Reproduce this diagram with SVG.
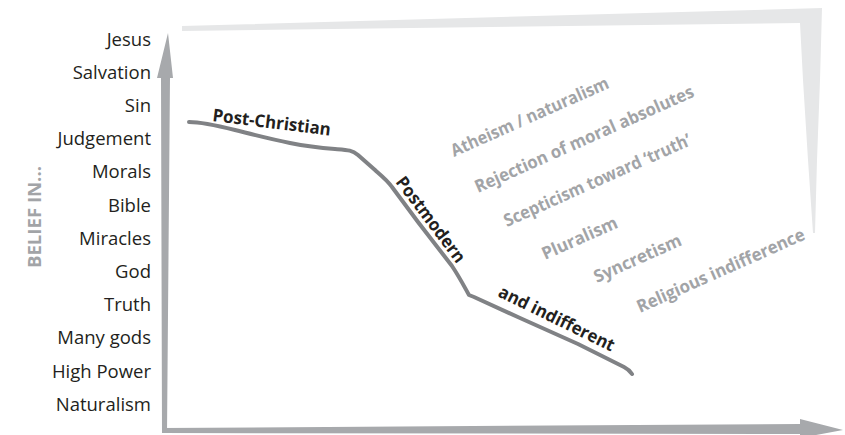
<svg xmlns="http://www.w3.org/2000/svg" width="845" height="435" viewBox="0 0 845 435">
<style>
.lbl{font-family:"Open Sans","Liberation Sans",sans-serif;font-size:18.5px;fill:#231f20;text-anchor:end}
.blk{font-family:"Open Sans","Liberation Sans",sans-serif;font-size:17.5px;font-weight:bold;fill:#231f20}
.gry{font-family:"Open Sans","Liberation Sans",sans-serif;font-size:17.5px;font-weight:bold;fill:#a2a4a7}
.axis{fill:#a7a9ac}
.frame{fill:#e6e7e8}
.curve{fill:none;stroke:#808285;stroke-width:4;stroke-linecap:round;stroke-linejoin:round}
</style>
<rect width="845" height="435" fill="#ffffff"/>
<g id="frame">
<polygon class="frame" points="182,26 822,8 820,80 817,160 815,233 813,233 808,160 803,80 800,23 182,31"/>
</g>
<g id="axes">
<polygon class="axis" points="168,33 173,78 170,78 167,433 162,433 161,78 157,78"/>
<polygon class="axis" points="162,428 800,424 800,419 843,430 800,438 800,434 162,433"/>
</g>
<g id="y-labels">
<text class="lbl" x="151" y="45.5">Jesus</text>
<text class="lbl" x="151" y="78.7">Salvation</text>
<text class="lbl" x="151" y="111.9">Sin</text>
<text class="lbl" x="151" y="145.1">Judgement</text>
<text class="lbl" x="151" y="178.3">Morals</text>
<text class="lbl" x="151" y="211.5">Bible</text>
<text class="lbl" x="151" y="244.7">Miracles</text>
<text class="lbl" x="151" y="277.9">God</text>
<text class="lbl" x="151" y="311.1">Truth</text>
<text class="lbl" x="151" y="344.3">Many gods</text>
<text class="lbl" x="151" y="377.5">High Power</text>
<text class="lbl" x="151" y="410.7">Naturalism</text>
</g>
<g id="axis-title">
<text class="gry" font-size="18" transform="translate(41,268) rotate(-90)" textLength="102" lengthAdjust="spacingAndGlyphs">BELIEF IN...</text>
</g>
<g id="connectors">
<path class="curve" d="M189,122 C200,122 215,125 235,130 S270,139 290,143 S322,148 335,149 S352,150 358,155 L375,170 C382,176 388,181 392,187 L418,222 L452,266 C460,278 465,288 469,295 L474,297 L520,318 L578,344 L624,367 C628,369 630,371 632,374"/>
</g>
<g id="stage-labels">
<text class="blk" transform="translate(212,121) rotate(7)" textLength="119" lengthAdjust="spacingAndGlyphs">Post-Christian</text>
<text class="blk" transform="translate(395,182) rotate(53)" textLength="103" lengthAdjust="spacingAndGlyphs">Postmodern</text>
<text class="blk" transform="translate(497,296) rotate(26)" textLength="127" lengthAdjust="spacingAndGlyphs">and indifferent</text>
</g>
<g id="traits">
<text class="gry" transform="translate(454,157) rotate(-24)" textLength="171" lengthAdjust="spacingAndGlyphs">Atheism / naturalism</text>
<text class="gry" transform="translate(478,193) rotate(-24)" textLength="238" lengthAdjust="spacingAndGlyphs">Rejection of moral absolutes</text>
<text class="gry" transform="translate(507,227) rotate(-24)" textLength="203" lengthAdjust="spacingAndGlyphs">Scepticism toward ‘truth’</text>
<text class="gry" transform="translate(545,260) rotate(-24)" textLength="81" lengthAdjust="spacingAndGlyphs">Pluralism</text>
<text class="gry" transform="translate(597,283) rotate(-24)" textLength="94" lengthAdjust="spacingAndGlyphs">Syncretism</text>
<text class="gry" transform="translate(640,313) rotate(-24)" textLength="182" lengthAdjust="spacingAndGlyphs">Religious indifference</text>
</g>
</svg>
